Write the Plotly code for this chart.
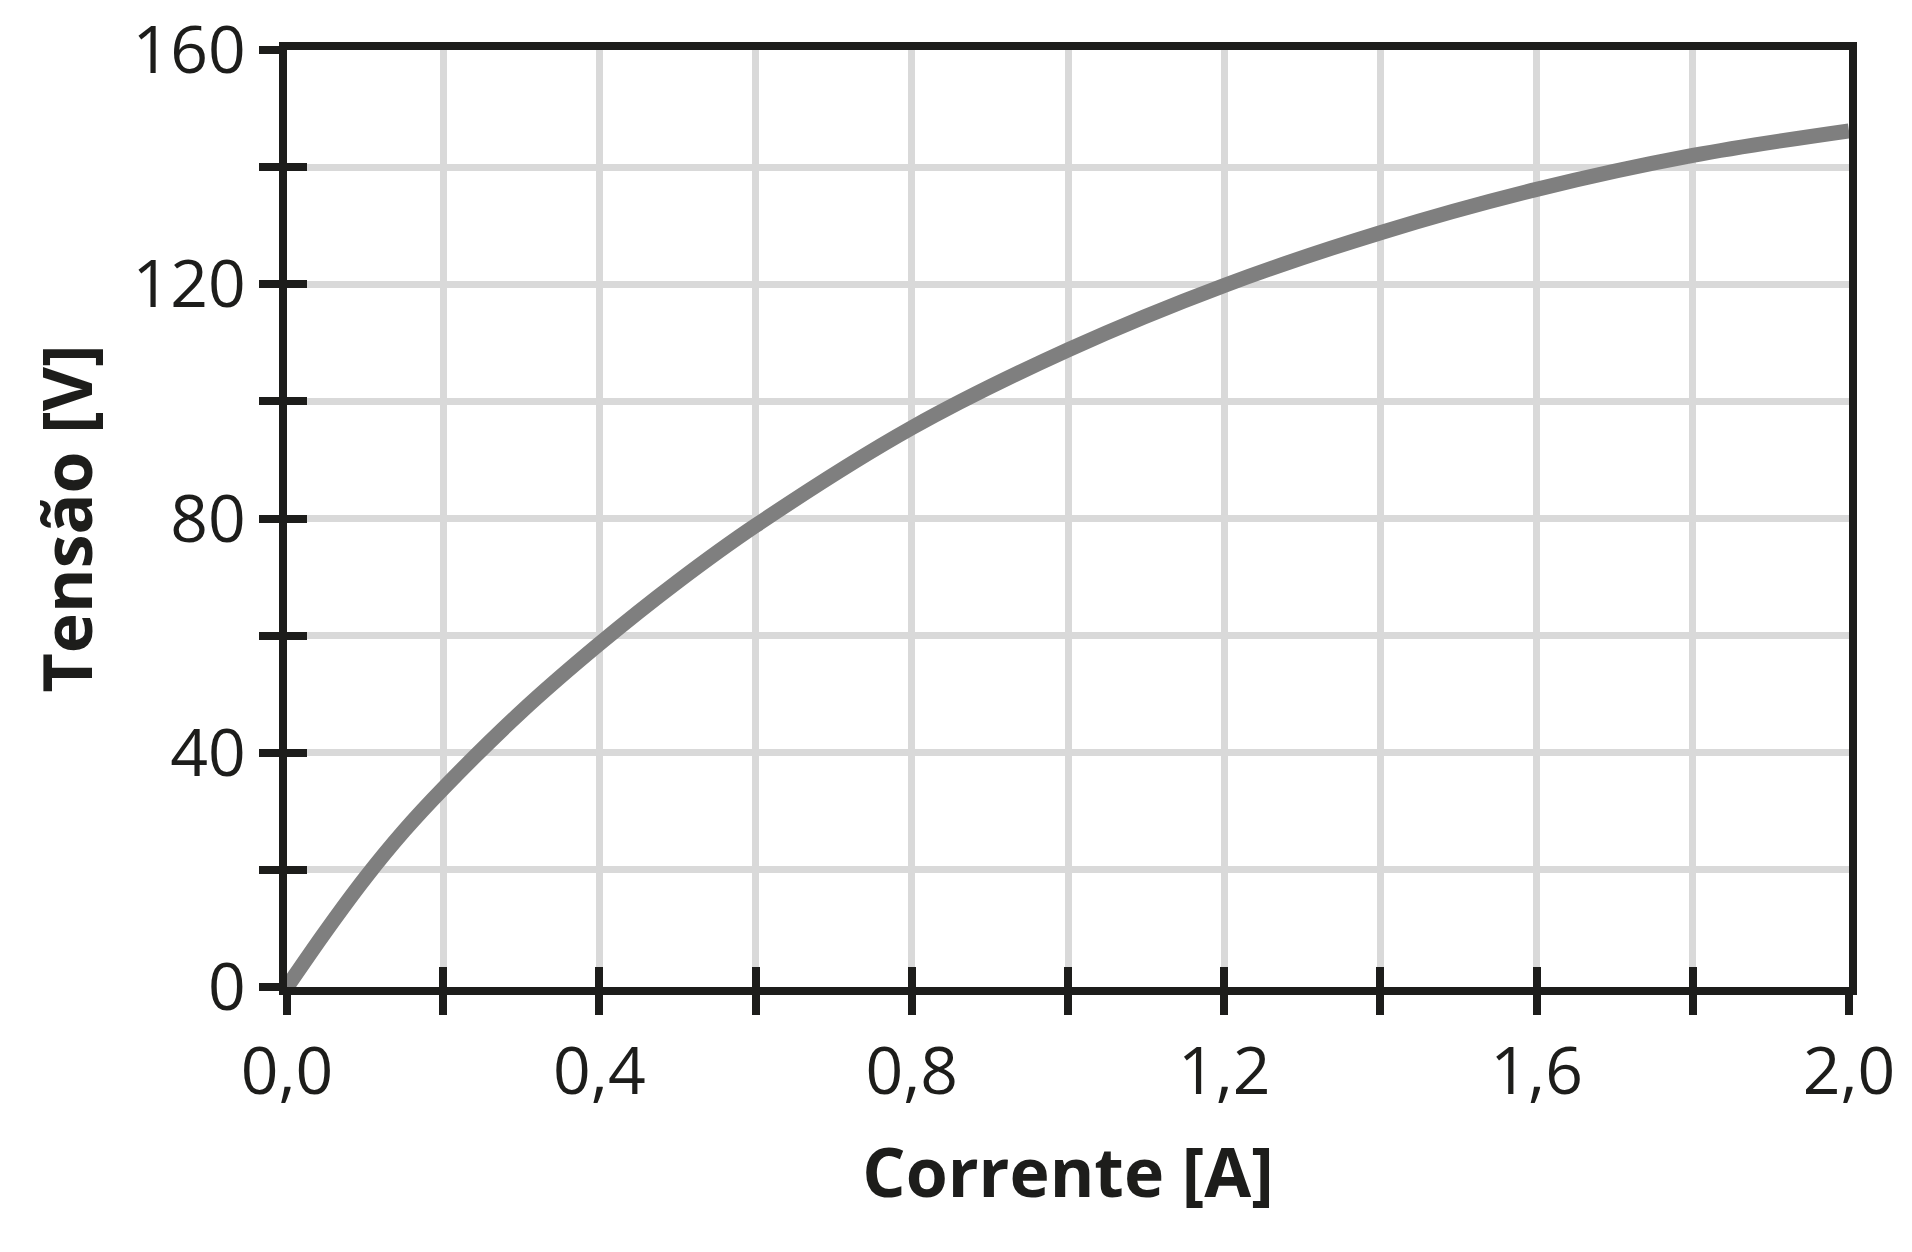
import plotly.graph_objects as go

# Data
corrente = [0.0, 0.05, 0.1, 0.15, 0.2, 0.3, 0.4, 0.5, 0.6, 0.8, 1.0, 1.2, 1.4, 1.6, 1.8, 2.0]
tensao = [0.0, 9.6, 18.6, 26.7, 33.9, 47.0, 58.6, 69.2, 78.8, 95.5, 108.8, 119.8, 128.8, 136.2, 142.0, 146.2]

x_tickvals = [0.0, 0.2, 0.4, 0.6, 0.8, 1.0, 1.2, 1.4, 1.6, 1.8, 2.0]
x_ticktext = ["0,0", "", "0,4", "", "0,8", "", "1,2", "", "1,6", "", "2,0"]
y_tickvals = [0, 20, 40, 60, 80, 100, 120, 140, 160]
y_ticktext = ["0", "", "40", "", "80", "", "120", "", "160"]

DARK = "#1d1d1b"
GRID = "#d9d9d9"
FONT = "Open Sans"
TICK_SIZE = 66

fig = go.Figure()
fig.add_trace(go.Scatter(
    x=corrente, y=tensao, mode="lines",
    line=dict(color="#7f7f7f", width=15, shape="spline", smoothing=1.0),
    hoverinfo="skip", showlegend=False,
))
# invisible companion trace to host the overlay axes (inside tick halves)
fig.add_trace(go.Scatter(
    x=corrente, y=tensao, mode="lines", xaxis="x2", yaxis="y2",
    line=dict(color="rgba(0,0,0,0)", width=0),
    hoverinfo="skip", showlegend=False,
))

fig.update_layout(
    width=1912, height=1252,
    paper_bgcolor="white", plot_bgcolor="white",
    margin=dict(l=279, r=71, t=42, b=273),
    font=dict(family=FONT, color=DARK, size=TICK_SIZE),
    xaxis=dict(
        range=[0, 2.0], tickvals=x_tickvals, ticktext=x_ticktext, automargin=False,
        showgrid=True, gridcolor=GRID, gridwidth=7, zeroline=False,
        showline=True, linecolor=DARK, linewidth=8, mirror=True,
        ticks="outside", ticklen=20, tickwidth=8, tickcolor=DARK,
        ticklabeloverflow="allow",
        tickfont=dict(family=FONT, size=TICK_SIZE, color=DARK),
        title=dict(text="<b>Corrente [A]</b>", font=dict(family=FONT, size=68, color=DARK), standoff=40),
    ),
    yaxis=dict(
        range=[0, 160], tickvals=y_tickvals, ticktext=y_ticktext, automargin=False,
        showgrid=True, gridcolor=GRID, gridwidth=7, zeroline=False,
        showline=True, linecolor=DARK, linewidth=8, mirror=True,
        ticks="outside", ticklen=20, tickwidth=8, tickcolor=DARK,
        ticklabeloverflow="allow",
        tickfont=dict(family=FONT, size=TICK_SIZE, color=DARK),
        title=dict(text="<b>Tensão [V]</b>", font=dict(family=FONT, size=68, color=DARK), standoff=21),
    ),
    xaxis2=dict(
        range=[0, 2.0], tickvals=x_tickvals, overlaying="x", anchor="y2", side="bottom",
        automargin=False,
        showgrid=False, zeroline=False, showline=False, showticklabels=False,
        ticks="inside", ticklen=20, tickwidth=8, tickcolor=DARK,
    ),
    yaxis2=dict(
        range=[0, 160], tickvals=y_tickvals, overlaying="y", anchor="x2", side="left",
        automargin=False,
        showgrid=False, zeroline=False, showline=False, showticklabels=False,
        ticks="inside", ticklen=20, tickwidth=8, tickcolor=DARK,
    ),
)

fig.write_html("out.html")
